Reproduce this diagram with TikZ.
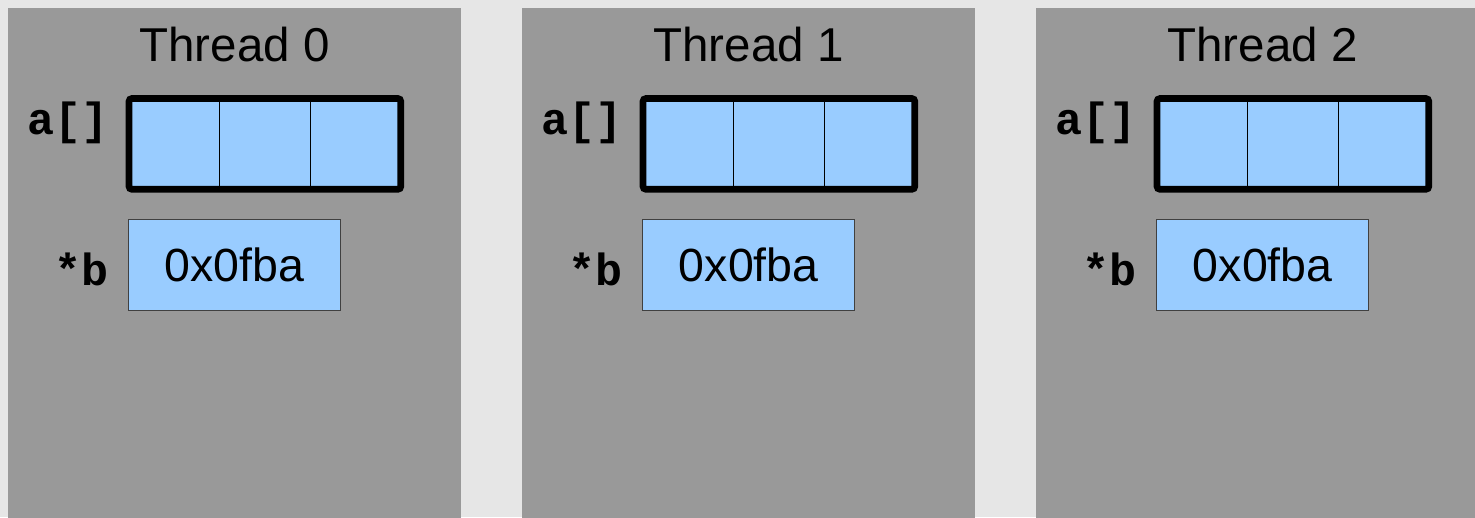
\documentclass[tikz,border=0pt]{standalone}
\usepackage{fontspec}
\setmainfont{Liberation Sans}
\newfontfamily\codefont{Liberation Mono}
\definecolor{bgc}{HTML}{E6E6E6}
\definecolor{panelc}{HTML}{999999}
\definecolor{cellc}{HTML}{99CCFF}
\begin{document}
\begin{tikzpicture}[x=1pt,y=-1pt,
  panel/.style={fill=panelc, draw=none, minimum width=453pt, minimum height=530pt, anchor=north west, inner sep=0pt, outer sep=0pt},
  title/.style={font=\fontsize{47.5}{50}\selectfont, anchor=base, inner sep=0pt},
  arr/.style={draw=black, line width=6.7pt, rounded corners=3pt, fill=cellc, minimum width=271.8pt, minimum height=90.8pt, anchor=north west, inner sep=0pt, outer sep=0pt},
  divider/.style={draw=black, line width=0.9pt},
  ptr/.style={fill=cellc, draw=black!75, line width=0.9pt, minimum width=212pt, minimum height=91.4pt, anchor=north west, inner sep=0pt, outer sep=0pt, font=\fontsize{46.5}{48}\selectfont},
  lbl/.style={font=\codefont\bfseries\fontsize{45}{47}\selectfont, anchor=base west, inner sep=0pt}]
\fill[bgc] (0,0) rectangle (1475,517);
\useasboundingbox (0,0) rectangle (1475,517);
\foreach \i in {0,1,2}{
  \begin{scope}[xshift=\i*514pt]
    \node[panel] (panel\i) at (8,8) {};
    \node[title] (title\i) at (234.5,61) {Thread \i};
    \node[arr] (arr\i) at (129,98.5) {};
    \draw[divider] ([xshift=90.3pt]arr\i.north west) -- ([xshift=90.3pt]arr\i.south west);
    \draw[divider] ([xshift=181.3pt]arr\i.north west) -- ([xshift=181.3pt]arr\i.south west);
    \node[ptr] (ptr\i) at (128.7,219.3) {0x0fba};
    \node[lbl] (la\i) at (27,134.3) {a[]};
    \node[lbl] (lb\i) at (54,285) {*b};
  \end{scope}
}
\end{tikzpicture}
\end{document}
